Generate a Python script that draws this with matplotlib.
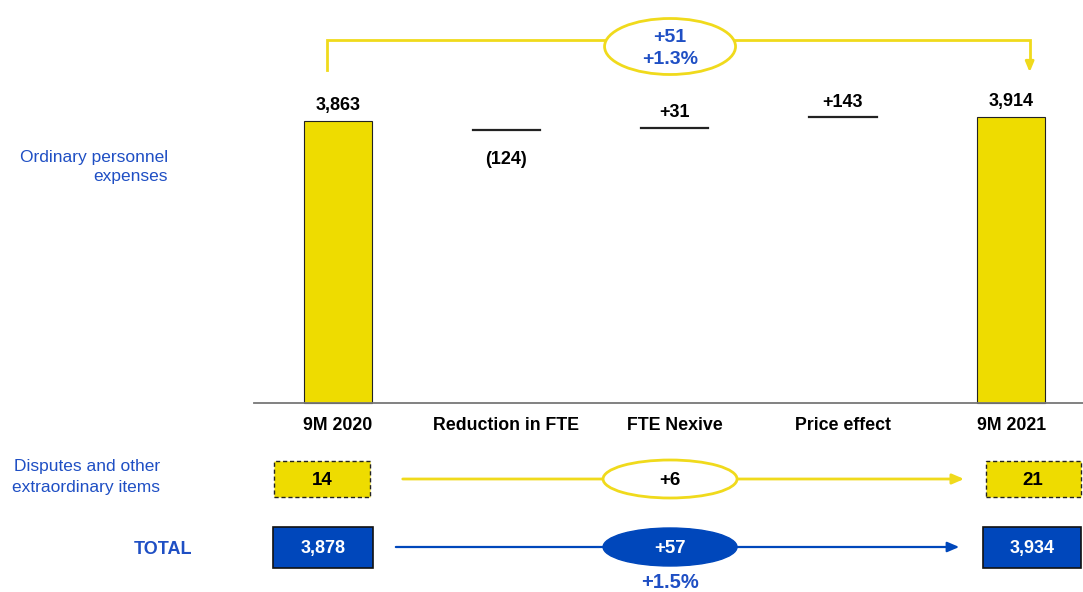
import numpy as np
import matplotlib
matplotlib.use("Agg")
import matplotlib.pyplot as plt
from matplotlib.patches import Ellipse, Rectangle

plt.rcParams['font.family'] = ['Liberation Sans', 'DejaVu Sans']

# данные
categories = ['9M 2020', 'Reduction in FTE', 'FTE Nexive', 'Price effect', '9M 2021']
ordinary = [3863, -124, 31, 143, 3914]
ordinary_labels = ['3,863', '(124)', '+31', '+143', '3,914']
ordinary_delta = ['+51', '+1.3%']
disputes = [14, 21]
disputes_delta = '+6'
totals = ['3,878', '3,934']
total_delta = ['+57', '+1.5%']

YELLOW = '#EEDC00'
LINE_YELLOW = '#F0DA1C'
BLUE = '#0047BB'
TXT_BLUE = '#1F4FC4'

W, H = 1083, 592
STEP = 168.3  # пикселей на одну категорию
fig = plt.figure(figsize=(W / 100, H / 100), dpi=100)
ax = fig.add_axes([247 / W, 0, 1 - 247 / W, 1])
ax.set_xlim(-0.541, 4.427)
ax.set_ylim(-2589, 5521)
ax.axis('off')
ax.plot([-0.5, 4.427], [0, 0], color='#777777', lw=1.3)

def fy(px):
    # строка пикселя -> доля высоты осей
    return 1 - px / H

xt = ax.get_xaxis_transform()
x = np.arange(len(categories))
bw = 0.4
FS = 13

# столбцы начала и конца
for i in (0, 4):
    ax.bar(x[i], ordinary[i], width=bw, color=YELLOW, edgecolor='#222222', lw=0.8)

# промежуточные шаги - только линия на накопленном уровне
level = ordinary[0]
for i in (1, 2, 3):
    level += ordinary[i]
    ax.plot([x[i] - bw / 2, x[i] + bw / 2], [level, level], color='#222222', lw=1.6)
    off = -21 if ordinary[i] < 0 else 11
    ax.annotate(ordinary_labels[i], (x[i], level), xytext=(0, off), textcoords='offset points',
                ha='center', va='center', fontsize=FS, fontweight='bold')
for i in (0, 4):
    ax.annotate(ordinary_labels[i], (x[i], ordinary[i]), xytext=(0, 11.5), textcoords='offset points',
                ha='center', va='center', fontsize=FS, fontweight='bold')

# подписи категорий
for i, c in enumerate(categories):
    ax.text(x[i], fy(425), c, transform=xt, ha='center', va='center', fontsize=12.8, fontweight='bold')

# скобка сверху
xl, xr = x[0] - 0.065, x[4] + 0.11
xc = 1.973
ax.plot([xl, xl, xr, xr], [fy(70), fy(40), fy(40), fy(62)], transform=xt, color=LINE_YELLOW, lw=2,
        solid_joinstyle='miter')
ax.annotate('', xy=(xr, fy(75)), xytext=(xr, fy(62)), xycoords=xt, textcoords=xt,
            arrowprops=dict(arrowstyle='-|>,head_length=0.6,head_width=0.25', color=LINE_YELLOW, lw=2))
ax.add_patch(Ellipse((xc, fy(46.5)), 131 / STEP, 56 / H, transform=xt, facecolor='white',
                     edgecolor=LINE_YELLOW, lw=2, zorder=3))
ax.text(xc, fy(37), ordinary_delta[0], transform=xt, ha='center', va='center', fontsize=14,
        fontweight='bold', color=TXT_BLUE, zorder=4)
ax.text(xc, fy(60), ordinary_delta[1], transform=xt, ha='center', va='center', fontsize=14,
        fontweight='bold', color=TXT_BLUE, zorder=4)

# строка споров
r1 = 479
bh = 36 / H
for xi, dx, wpx, v in zip((x[0], x[4]), (-0.095, 0.13), (96, 95), disputes):
    bwid = wpx / STEP
    ax.add_patch(Rectangle((xi + dx - bwid / 2, fy(r1) - bh / 2), bwid, bh, transform=xt,
                           facecolor=YELLOW, edgecolor='#222222', lw=1, ls=(0, (3, 2))))
    ax.text(xi + dx, fy(r1 + 1.5), str(v), transform=xt, ha='center', va='center', fontsize=FS + 0.5,
            fontweight='bold')
ax.annotate('', xy=(x[4] - 0.263, fy(r1)), xytext=(x[0] + 0.368, fy(r1)), xycoords=xt, textcoords=xt,
            arrowprops=dict(arrowstyle='-|>,head_length=0.7,head_width=0.3', color=LINE_YELLOW, lw=2))
ax.add_patch(Ellipse((xc, fy(r1)), 134 / STEP, 38 / H, transform=xt, facecolor='white',
                     edgecolor=LINE_YELLOW, lw=2, zorder=3))
ax.text(xc, fy(r1 + 1.5), disputes_delta, transform=xt, ha='center', va='center', fontsize=FS + 0.5,
        fontweight='bold', zorder=4)

# строка итогов
r2 = 547
bh2 = 41 / H
for xi, dx, wpx, v in zip((x[0], x[4]), (-0.09, 0.125), (100, 98), totals):
    bwid2 = wpx / STEP
    ax.add_patch(Rectangle((xi + dx - bwid2 / 2, fy(r2) - bh2 / 2), bwid2, bh2, transform=xt,
                           facecolor=BLUE, edgecolor='#111111', lw=1.2))
    ax.text(xi + dx, fy(r2 + 2), v, transform=xt, ha='center', va='center', fontsize=FS,
            fontweight='bold', color='white')
ax.annotate('', xy=(x[4] - 0.292, fy(r2)), xytext=(x[0] + 0.327, fy(r2)), xycoords=xt, textcoords=xt,
            arrowprops=dict(arrowstyle='-|>,head_length=0.7,head_width=0.3', color=BLUE, lw=1.6))
ax.add_patch(Ellipse((xc, fy(r2)), 134 / STEP, 38 / H, transform=xt, facecolor=BLUE,
                     edgecolor=BLUE, lw=1, zorder=3))
ax.text(xc, fy(r2 + 1.5), total_delta[0], transform=xt, ha='center', va='center', fontsize=FS + 0.5,
        fontweight='bold', color='white', zorder=4)
ax.text(xc, fy(582), total_delta[1], transform=xt, ha='center', va='center', fontsize=14.5,
        fontweight='bold', color=TXT_BLUE)

# подписи строк слева
fig.text(168 / W, 1 - 167 / H, 'Ordinary personnel\nexpenses', ha='right', va='center',
         fontsize=12.5, color=TXT_BLUE, linespacing=1.4)
fig.text(160 / W, 1 - 477 / H, 'Disputes and other\nextraordinary items', ha='right', va='center',
         fontsize=12.5, color=TXT_BLUE, linespacing=1.45)
fig.text(163 / W, 1 - 549 / H, 'TOTAL', ha='center', va='center', fontsize=13,
         fontweight='bold', color=TXT_BLUE)

fig.savefig('out.png', dpi=100)
